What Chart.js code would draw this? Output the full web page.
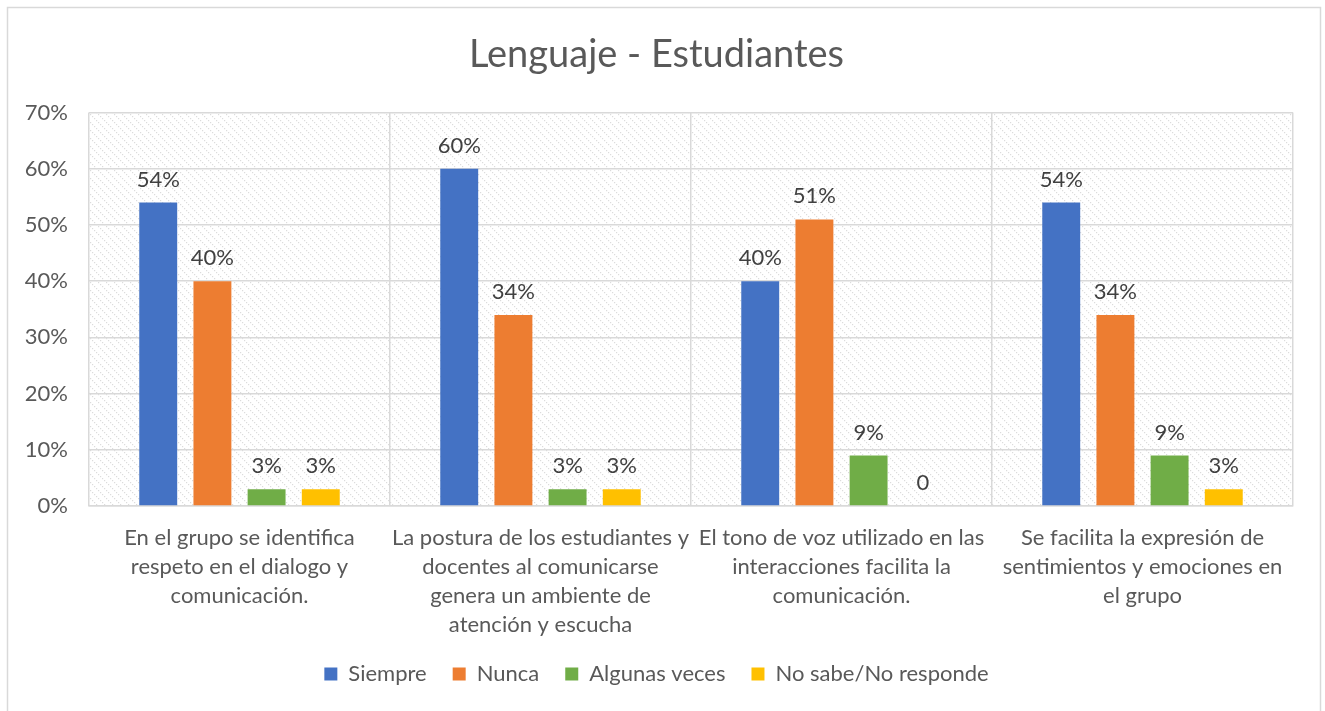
<!DOCTYPE html>
<html>
<head>
<meta charset="utf-8">
<script src="https://cdn.jsdelivr.net/npm/chart.js@4.4.1/dist/chart.umd.min.js"></script>
<style>
  html, body { margin: 0; padding: 0; background: #fff; }
  #wrap { width: 1325px; height: 711px; }
</style>
</head>
<body>
<div id="wrap"><canvas id="grafico" width="1325" height="711"></canvas></div>
<script>
// datos del grafico
const categorias = [
  ["En el grupo se identifica", "respeto en el dialogo y", "comunicación."],
  ["La postura de los estudiantes y", "docentes al comunicarse", "genera un ambiente de", "atención y escucha"],
  ["El tono de voz utilizado en las", "interacciones facilita la", "comunicación."],
  ["Se facilita la expresión de", "sentimientos y emociones en", "el grupo"]
];
const siempre = [54, 60, 40, 54];
const nunca = [40, 34, 51, 34];
const algunasVeces = [3, 3, 9, 9];
const noSabe = [3, 3, 0, 3];
const ticksY = [0, 10, 20, 30, 40, 50, 60, 70];

const gris = "#595959";
const fuente = "Lato, 'Open Sans', sans-serif";

// fondo rayado del area del grafico
function crearRayado(ctx) {
  const c = document.createElement("canvas");
  c.width = 8; c.height = 8;
  const p = c.getContext("2d");
  p.fillStyle = "#dcdcdc";
  for (let i = 0; i < 8; i += 2) p.fillRect(i, i, 1.2, 1.2);
  return ctx.createPattern(c, "repeat");
}

const fondo = {
  id: "fondo",
  beforeDraw(chart) {
    const { ctx, chartArea: a } = chart;
    ctx.save();
    ctx.fillStyle = "#fff";
    ctx.fillRect(0, 0, chart.width, chart.height);
    ctx.strokeStyle = "#d9d9d9";
    ctx.lineWidth = 1.5;
    ctx.strokeRect(7.5, 7.5, 1313, 720);
    ctx.fillStyle = crearRayado(ctx);
    ctx.fillRect(a.left, a.top, a.right - a.left, a.bottom - a.top);
    ctx.restore();
  }
};

// etiquetas encima de las barras
const etiquetas = {
  id: "etiquetas",
  afterDatasetsDraw(chart) {
    const ctx = chart.ctx;
    ctx.save();
    ctx.font = "22px " + fuente;
    ctx.fillStyle = "#404040";
    ctx.textAlign = "center";
    ctx.textBaseline = "bottom";
    chart.data.datasets.forEach((ds, i) => {
      chart.getDatasetMeta(i).data.forEach((bar, j) => {
        const v = ds.data[j];
        const txt = v === 0 ? "0" : v + "%";
        ctx.fillText(txt, bar.x, bar.y - 12);
      });
    });
    ctx.restore();
  }
};

const ctx = document.getElementById("grafico").getContext("2d");
new Chart(ctx, {
  type: "bar",
  data: {
    labels: categorias,
    datasets: [
      { label: "Siempre", data: siempre, backgroundColor: "#4472C4" },
      { label: "Nunca", data: nunca, backgroundColor: "#ED7D31" },
      { label: "Algunas veces", data: algunasVeces, backgroundColor: "#70AD47" },
      { label: "No sabe/No responde", data: noSabe, backgroundColor: "#FFC000" }
    ]
  },
  options: {
    responsive: false,
    animation: false,
    layout: { padding: { left: 20, right: 32, top: 0, bottom: 16 } },
    datasets: { bar: { categoryPercentage: 0.72, barPercentage: 0.7 } },
    plugins: {
      title: {
        display: true,
        text: "Lenguaje - Estudiantes",
        color: gris,
        font: { family: fuente, size: 38, weight: "normal" },
        padding: { top: 32, bottom: 35 }
      },
      legend: {
        position: "bottom",
        labels: {
          color: gris,
          font: { family: fuente, size: 22 },
          boxWidth: 13,
          boxHeight: 13,
          padding: 26
        }
      },
      tooltip: { enabled: false }
    },
    scales: {
      x: {
        grid: { color: "#d9d9d9", lineWidth: 1.5, drawTicks: false },
        border: { color: "#d9d9d9", width: 1.5 },
        ticks: {
          color: gris,
          font: { family: fuente, size: 22, lineHeight: 1.32 },
          padding: 17,
          maxRotation: 0,
          autoSkip: false
        },
        afterFit(s) { s.height = 131; }
      },
      y: {
        min: 0,
        max: 70,
        grid: { color: "#d9d9d9", lineWidth: 1.5, drawTicks: false },
        border: { display: false },
        afterBuildTicks(s) { s.ticks = ticksY.map(v => ({ value: v })); },
        ticks: {
          color: gris,
          font: { family: fuente, size: 22 },
          padding: 21,
          callback: v => v + "%"
        },
        afterFit(s) { s.width = 69; }
      }
    }
  },
  plugins: [fondo, etiquetas]
});
</script>
</body>
</html>
